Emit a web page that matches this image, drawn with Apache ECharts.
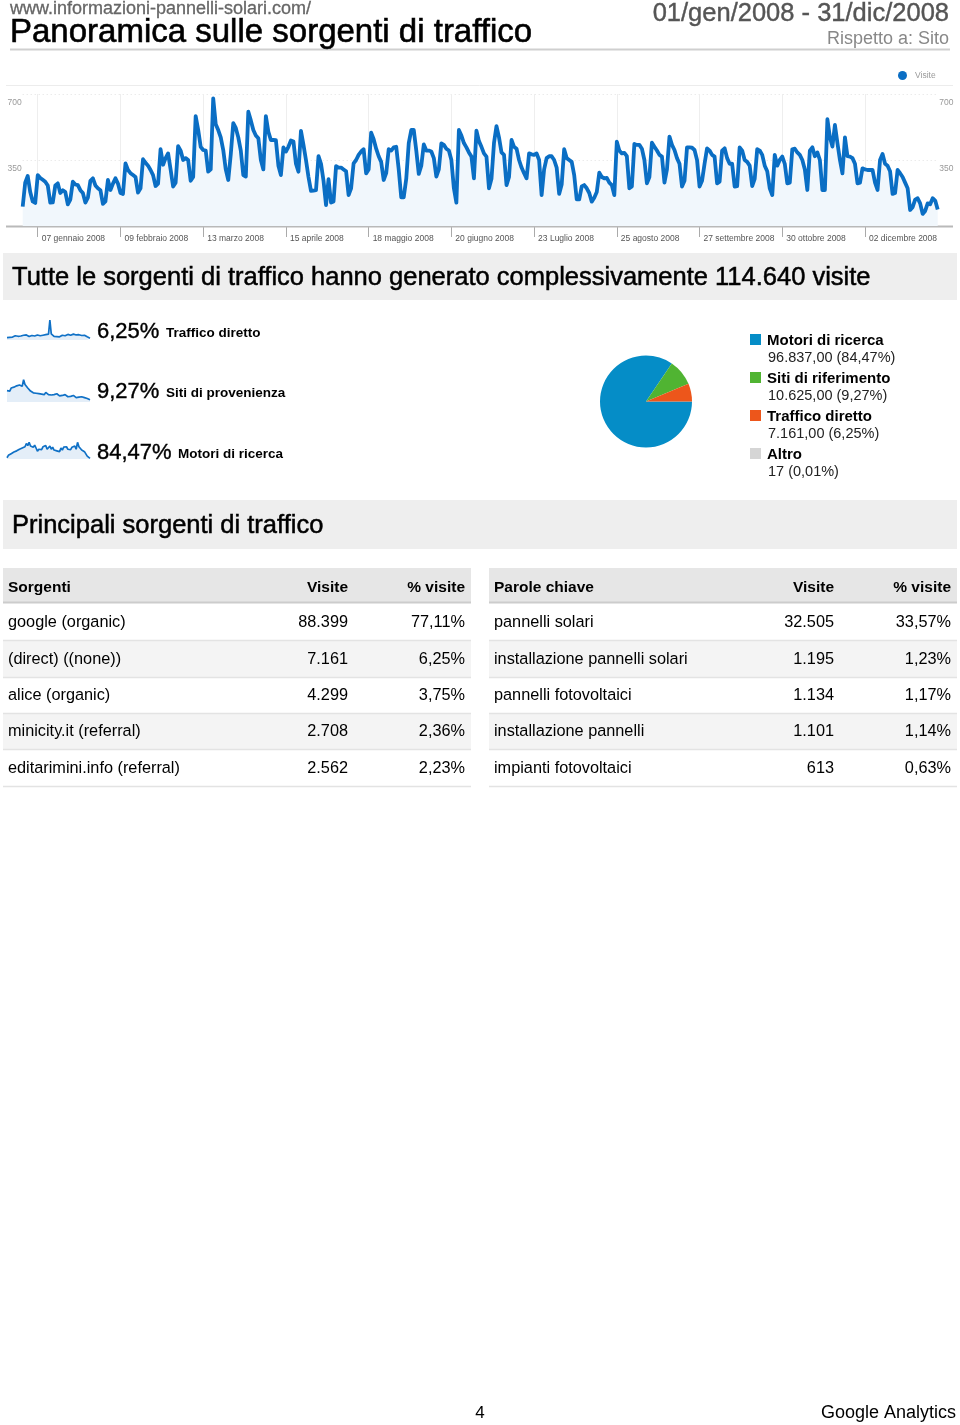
<!DOCTYPE html>
<html><head><meta charset="utf-8">
<script src="https://cdn.jsdelivr.net/npm/echarts@6/dist/echarts.min.js"></script>
<style>html,body{margin:0;padding:0;background:#fff}#c{width:960px;height:1425px}</style>
</head><body><div id="c"></div>
<script>
// ---- Daily visits 2008 (Jan 1 .. Dec 31) ----
const visits = [
103,230,265,180,130,122,
270,255,245,235,215,124,125,
215,226,175,190,180,115,140,
235,220,217,190,175,124,150,
240,253,215,200,190,117,130,
244,191,225,253,225,175,170,
332,297,280,270,260,177,200,
354,335,320,297,270,212,225,
407,325,360,385,300,209,230,
424,400,350,360,350,240,260,
583,510,420,403,400,288,300,
677,540,509,470,403,300,244,
380,545,520,470,400,270,262,
606,560,509,480,465,350,300,
583,500,456,456,455,320,270,
417,395,420,453,448,330,288,
504,430,350,260,186,188,190,
371,330,240,111,248,124,130,
318,310,310,300,290,164,200,
332,350,377,395,407,279,300,
495,460,410,370,340,244,280,
407,400,417,420,300,152,152,
250,440,509,509,400,276,320,
433,400,400,395,360,262,300,
438,430,410,400,350,200,124,
509,480,440,417,390,368,253,
506,450,420,385,368,200,250,
440,530,470,390,377,217,260,
456,420,410,350,310,280,253,
385,380,377,385,350,164,300,
360,370,370,350,310,170,220,
407,360,350,340,270,141,141,
210,217,200,175,129,150,180,
283,260,253,255,230,217,164,
447,400,385,388,370,200,210,
435,430,430,410,350,226,260,
442,420,400,377,368,230,300,
474,430,403,360,330,209,240,
417,417,415,403,350,209,240,
330,412,400,377,368,226,235,
400,412,360,330,330,209,212,
417,400,350,340,320,212,250,
407,400,377,320,290,200,164,
377,320,350,368,330,226,230,
407,410,390,377,350,300,191,
400,417,370,390,350,191,191,
566,470,421,536,440,350,279,
470,370,368,360,330,226,230,
306,300,297,297,297,230,191,
350,382,330,320,290,170,175,
297,280,260,230,200,85,100,
140,147,120,64,80,120,115,
147,135,88
];
const tickDays = [6,39,72,105,138,171,204,237,270,303,336];
const tickLabels = ['07 gennaio 2008','09 febbraio 2008','13 marzo 2008','15 aprile 2008','18 maggio 2008','20 giugno 2008','23 Luglio 2008','25 agosto 2008','27 settembre 2008','30 ottobre 2008','02 dicembre 2008'];
const yTicks = [0,350,700];

// ---- Sparklines ----
const sparkDirect = [14,17,15,19,16,18,21,17,19,22,20,18,23,19,24,21,18,25,22,27,20,18,24,26,21,19,23,20,25,22,27,80,28,22,19,21,18,22,17,20,23,19,21,24,26,21,23,20,27,22,24,19,25,21,22,18,23,19,17,15,12];
const sparkReferral = [36,40,35,42,39,44,40,47,43,49,52,46,61,50,53,42,38,35,34,31,35,30,33,29,32,28,31,27,32,28,27,30,26,29,27,25,29,26,24,28,25,23,27,24,22,26,23,21,25,22,20,24,21,19,22,19,20,17,18,16,15];
const sparkSearch = [90,150,120,190,170,230,200,260,240,300,280,330,310,360,440,390,470,380,420,350,400,330,250,300,340,290,360,320,390,300,340,380,300,350,280,320,260,300,240,330,280,350,310,360,300,340,290,350,320,380,300,470,360,330,280,300,240,260,130,110,75];
const sparkPct = ['6,25%','9,27%','84,47%'];
const sparkNames = ['Traffico diretto','Siti di provenienza','Motori di ricerca'];

// ---- Pie ----
const pieNames = ['Motori di ricerca','Siti di riferimento','Traffico diretto','Altro'];
const pieValues = [96837,10625,7161,17];
const pieLabels = ['96.837,00 (84,47%)','10.625,00 (9,27%)','7.161,00 (6,25%)','17 (0,01%)'];
const pieColors = ['#058DC7','#50B432','#ED561B','#D5D5D5'];

// ---- Tables ----
const srcHeader = ['Sorgenti','Visite','% visite'];
const srcNames = ['google (organic)','(direct) ((none))','alice (organic)','minicity.it (referral)','editarimini.info (referral)'];
const srcVisits = ['88.399','7.161','4.299','2.708','2.562'];
const srcPct = ['77,11%','6,25%','3,75%','2,36%','2,23%'];
const kwHeader = ['Parole chiave','Visite','% visite'];
const kwNames = ['pannelli solari','installazione pannelli solari','pannelli fotovoltaici','installazione pannelli','impianti fotovoltaici'];
const kwVisits = ['32.505','1.195','1.134','1.101','613'];
const kwPct = ['33,57%','1,23%','1,17%','1,14%','0,63%'];

// ---- Texts ----
const siteUrl = 'www.informazioni-pannelli-solari.com/';
const pageTitle = 'Panoramica sulle sorgenti di traffico';
const dateRange = '01/gen/2008 - 31/dic/2008';
const compareTo = 'Rispetto a: Sito';
const totalTitle = 'Tutte le sorgenti di traffico hanno generato complessivamente 114.640 visite';
const topTitle = 'Principali sorgenti di traffico';
const pageNum = '4';
const footer = 'Google Analytics';

const FONT = '"Liberation Sans", Arial, Helvetica, sans-serif';
const days = visits.map((v, i) => { const d = new Date(2008, 0, 1 + i); return d.getDate() + '/' + (d.getMonth() + 1) + '/2008'; });
const isTick = (i) => tickDays.indexOf(i) >= 0;

const G = [];
const DY = 2;
function T(x, y, text, size, fill, opts) {
  opts = opts || {};
  const st = { text: text, x: x, y: y + DY, fill: fill || '#000',
    font: (opts.weight || 'normal') + ' ' + size + 'px ' + FONT,
    textAlign: opts.align || 'left', align: opts.align || 'left',
    textVerticalAlign: 'middle', verticalAlign: 'middle' };
  if (opts.heavy) { st.stroke = fill || '#000'; st.lineWidth = opts.heavy; }
  G.push({ type: 'text', z: 10, style: st });
}
function R(x, y, w, h, fill) { G.push({ type: 'rect', z: 1, shape: { x: x, y: y, width: w, height: h }, style: { fill: fill } }); }
function L(x1, y1, x2, y2, stroke, lw) { G.push({ type: 'line', z: 2, shape: { x1: x1, y1: y1, x2: x2, y2: y2 }, style: { stroke: stroke, lineWidth: lw } }); }

// header
T(10, 7, siteUrl, 18, '#666', { heavy: 0.3 });
T(10, 31, pageTitle, 33, '#000', { heavy: 0.6 });
T(949, 12, dateRange, 25.5, '#555', { align: 'right', heavy: 0.4 });
T(949, 37, compareTo, 18, '#888', { align: 'right' });
L(10, 49.5, 950, 49.5, '#cfcfcf', 2);
// chart frame lines
L(6, 85.5, 953, 85.5, '#ececec', 1);
L(6, 226.5, 953, 226.5, '#b9b9b9', 2);
// section 2
R(3, 253, 954, 47, '#eeeeee');
T(12, 276, totalTitle, 25.5, '#000', { heavy: 0.5 });
// sparkline labels
const sparkY = [330, 390, 451];
sparkPct.forEach((p, i) => { T(97, sparkY[i], p, 22, '#000', { heavy: 0.4 }); });
const nameX = [166, 166, 178];
sparkNames.forEach((n, i) => { T(nameX[i], sparkY[i] + 1.5, n, 13.5, '#000', { weight: 'bold' }); });
// pie legend
const legY = [340, 378, 416, 454];
pieNames.forEach((n, i) => {
  R(750, legY[i] - 6, 11, 11, pieColors[i]);
  T(767, legY[i] - 1, n, 15, '#000', { weight: 'bold' });
  T(768, legY[i] + 16, pieLabels[i], 14.5, '#222');
});
// section 3
R(3, 500, 954, 49, '#eeeeee');
T(12, 524, topTitle, 25.5, '#000', { heavy: 0.5 });
// tables
function table(x0, w, header, names, vals, pcts, colV, colP) {
  R(x0, 568, w, 34, '#e6e6e6');
  L(x0, 602.5, x0 + w, 602.5, '#cccccc', 2);
  T(x0 + 5, 586, header[0], 15.5, '#000', { weight: 'bold' });
  T(colV, 586, header[1], 15.5, '#000', { weight: 'bold', align: 'right' });
  T(colP, 586, header[2], 15.5, '#000', { weight: 'bold', align: 'right' });
  const rowY = [621, 658, 694, 730, 767];
  names.forEach((n, i) => {
    const top = rowY[i] - 18 + 1;
    if (i % 2 === 1) R(x0, top, w, 36, '#f4f4f4');
    L(x0, top + 36.5, x0 + w, top + 36.5, '#e3e3e3', 1.5);
    T(x0 + 5, rowY[i], n, 16.3, '#000');
    T(colV, rowY[i], vals[i], 16.3, '#000', { align: 'right' });
    T(colP, rowY[i], pcts[i], 16.3, '#000', { align: 'right' });
  });
}
table(3, 468, srcHeader, srcNames, srcVisits, srcPct, 348, 465);
table(489, 468, kwHeader, kwNames, kwVisits, kwPct, 834, 951);
// footer
T(480, 1411, pageNum, 17, '#000', { align: 'center' });
T(956, 1411, footer, 18, '#000', { align: 'right' });

const chart = echarts.init(document.getElementById('c'), null, { renderer: 'canvas' });
const sparkGrid = [ { top: 318, height: 22 }, { top: 378, height: 24 }, { top: 437, height: 22 } ];
const sparkData = [sparkDirect, sparkReferral, sparkSearch];
const sparkRange = [[5, 88], [10, 65], [60, 600]];

const option = {
  animation: false,
  backgroundColor: '#fff',
  textStyle: { fontFamily: FONT },
  legend: { data: ['Visite'], left: 893, top: 66, icon: 'circle', itemWidth: 9, itemHeight: 9,
    textStyle: { fontSize: 8.5, color: '#999', padding: [0, 0, 0, 3] } },
  grid: [
    { left: 22.7, right: 22.3, top: 94, height: 132 },
    { left: 7, width: 83, top: sparkGrid[0].top, height: sparkGrid[0].height },
    { left: 7, width: 83, top: sparkGrid[1].top, height: sparkGrid[1].height },
    { left: 7, width: 83, top: sparkGrid[2].top, height: sparkGrid[2].height }
  ],
  xAxis: [
    { type: 'category', gridIndex: 0, data: days, boundaryGap: false,
      axisLine: { show: false },
      axisTick: { show: true, interval: (i) => isTick(i), length: 11, lineStyle: { color: '#aaa', width: 1 } },
      axisLabel: { interval: (i) => isTick(i), formatter: (v, i) => tickLabels[tickDays.indexOf(i)] || '',
        align: 'left', verticalAlign: 'middle', margin: 13, padding: [0, 0, 0, 4], fontSize: 8.5, color: '#555' },
      splitLine: { show: true, interval: (i) => isTick(i), lineStyle: { color: '#eeeeee', width: 1 } } },
    { type: 'category', gridIndex: 1, data: sparkDirect.map((v, i) => i), boundaryGap: false, show: false },
    { type: 'category', gridIndex: 2, data: sparkReferral.map((v, i) => i), boundaryGap: false, show: false },
    { type: 'category', gridIndex: 3, data: sparkSearch.map((v, i) => i), boundaryGap: false, show: false }
  ],
  yAxis: [
    { type: 'value', gridIndex: 0, min: yTicks[0], max: yTicks[2], interval: 350, position: 'left',
      axisLine: { show: false }, axisTick: { show: false },
      axisLabel: { showMinLabel: false, verticalAlign: 'top', margin: 1, padding: [4, 0, 0, 0], fontSize: 8.5, color: '#999' },
      splitLine: { show: true, lineStyle: { color: '#e2e2e2', type: [1, 3] } } },
    { type: 'value', gridIndex: 0, min: yTicks[0], max: yTicks[2], interval: 350, position: 'right',
      axisLine: { show: false }, axisTick: { show: false },
      axisLabel: { showMinLabel: false, verticalAlign: 'top', margin: 1.5, padding: [4, 0, 0, 0], fontSize: 8.5, color: '#999' },
      splitLine: { show: false } },
    { type: 'value', gridIndex: 1, min: sparkRange[0][0], max: sparkRange[0][1], show: false },
    { type: 'value', gridIndex: 2, min: sparkRange[1][0], max: sparkRange[1][1], show: false },
    { type: 'value', gridIndex: 3, min: sparkRange[2][0], max: sparkRange[2][1], show: false }
  ],
  series: [
    { name: 'Visite', type: 'line', xAxisIndex: 0, yAxisIndex: 0, data: visits, symbol: 'none', smooth: false,
      lineStyle: { color: '#0a6ec4', width: 3.8, join: 'round' }, itemStyle: { color: '#0a6ec4' },
      areaStyle: { color: '#f1f7fc', opacity: 1 }, z: 5 }
  ].concat(sparkData.map((d, k) => ({
      type: 'line', xAxisIndex: k + 1, yAxisIndex: k + 2, data: d, symbol: 'none', silent: true,
      lineStyle: { color: '#1071c6', width: 1.7 }, areaStyle: { color: '#e4eef8', opacity: 1 } })))
   .concat([{
      type: 'pie', center: [646, 401.5], radius: 46, startAngle: 0, clockwise: true, silent: true,
      label: { show: false }, labelLine: { show: false },
      data: pieNames.map((n, i) => ({ name: n, value: pieValues[i], itemStyle: { color: pieColors[i] } }))
   }]),
  graphic: { elements: G }
};
chart.setOption(option);
</script>
</body></html>
